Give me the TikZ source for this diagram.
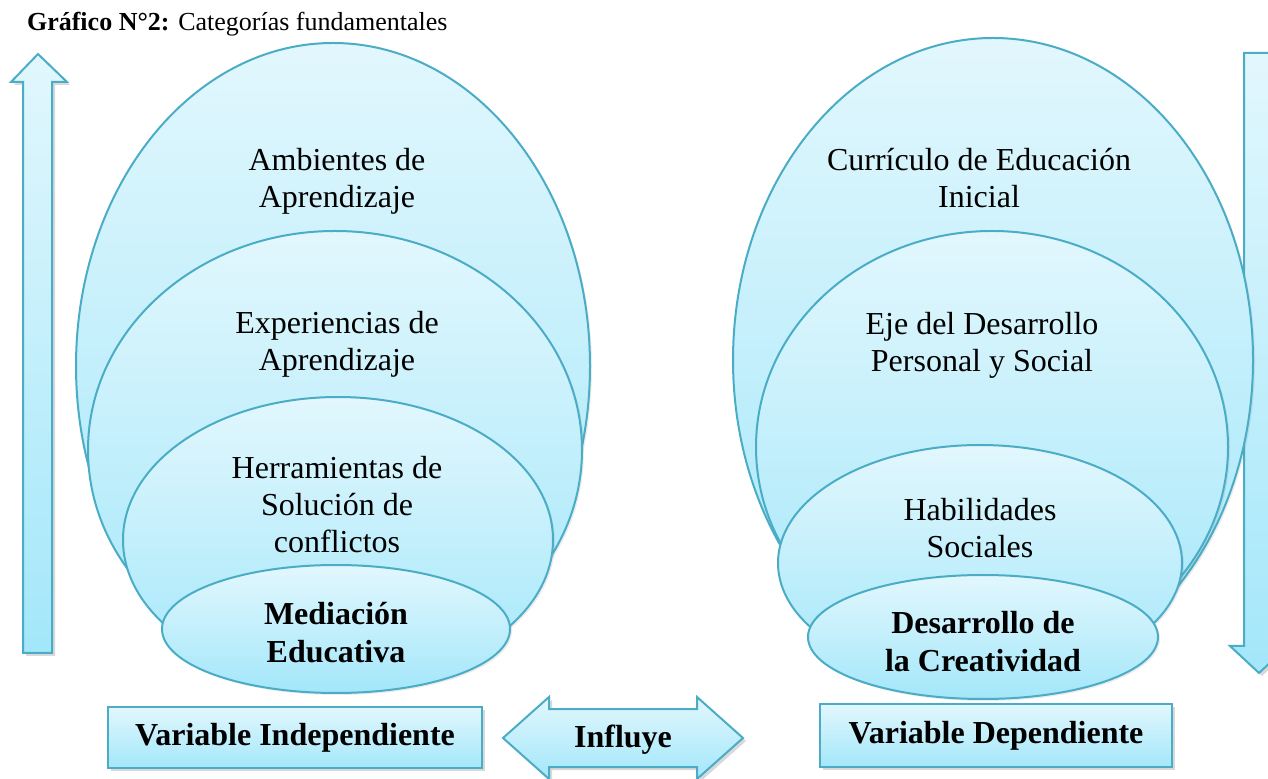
\documentclass[tikz,border=0pt]{standalone}
\usepackage{fontspec}
\setmainfont{Liberation Serif}
\usetikzlibrary{shapes.geometric,shadows}

\definecolor{aqualine}{HTML}{4BACC6}
\definecolor{aqualight}{HTML}{E2F7FD}
\definecolor{aquadark}{HTML}{A3E7FA}

\begin{document}
\begin{tikzpicture}[x=0.5pt,y=-0.5pt,
    capa/.style={ellipse, draw=aqualine, line width=1pt, top color=aqualight, bottom color=aquadark,
      inner sep=0pt, outer sep=0pt, drop shadow={opacity=0.15, shadow xshift=1pt, shadow yshift=-1pt}},
    caja/.style={rectangle, draw=aqualine, line width=1pt, top color=aqualight, bottom color=aquadark,
      inner sep=0pt, outer sep=0pt, font=\bfseries\fontsize{16}{19}\selectfont,
      drop shadow={opacity=0.3, shadow xshift=1.5pt, shadow yshift=-1.5pt}},
    flecha/.style={draw=aqualine, line width=1pt, top color=aqualight, bottom color=aquadark,
      drop shadow={opacity=0.3, shadow xshift=1.5pt, shadow yshift=-1.5pt}},
    rotulo/.style={align=center, font=\fontsize{16}{18.5}\selectfont},
    rotulob/.style={align=center, font=\bfseries\fontsize{16}{19}\selectfont}]
  \useasboundingbox (0,0) rectangle (1268,779);
  \clip (0,0) rectangle (1268,779);

  \node[anchor=base west, font=\fontsize{13}{15}\selectfont] (titulo) at (20,31) {\textbf{Gráfico N°2:} Categorías fundamentales};

  \draw[flecha] (38,54) -- (67,82) -- (52,82) -- (52,653) -- (23,653) -- (23,82) -- (11,82) -- cycle;
  \draw[flecha] (1244,53) -- (1274,53) -- (1274,646) -- (1288,646) -- (1259,673) -- (1230,646) -- (1244,646) -- cycle;

  \node[capa, minimum width=257pt, minimum height=323pt] (ambientes) at (333,366) {};
  \node[capa, minimum width=247pt, minimum height=219pt] (experiencias) at (335,450) {};
  \node[capa, minimum width=215pt, minimum height=143pt] (herramientas) at (338,540) {};
  \node[capa, minimum width=174pt, minimum height=64pt] (mediacion) at (336,629) {};

  \node[capa, minimum width=260pt, minimum height=322pt] (curriculo) at (993,360) {};
  \node[capa, minimum width=236pt, minimum height=216pt] (eje) at (992,447) {};
  \node[capa, minimum width=202pt, minimum height=118pt] (habilidades) at (980,563) {};
  \node[capa, minimum width=175pt, minimum height=62pt] (desarrollo) at (983,637) {};

  \node[rotulo] (ambT) at (337,181) {Ambientes de\\Aprendizaje};
  \node[rotulo] (expT) at (337,344) {Experiencias de\\Aprendizaje};
  \node[rotulo] (herT) at (337,505) {Herramientas de\\Solución de\\conflictos};
  \node[rotulob] (medT) at (336,633) {Mediación\\Educativa};

  \node[rotulo] (curT) at (979,178) {Currículo de Educación\\Inicial};
  \node[rotulo] (ejeT) at (982,345) {Eje del Desarrollo\\Personal y Social};
  \node[rotulo] (habT) at (980,528) {Habilidades\\Sociales};
  \node[rotulob] (desT) at (983,642) {Desarrollo de\\la Creatividad};

  \node[caja, minimum width=187pt, minimum height=30.5pt] (independiente) at (295,737.5) {Variable Independiente};
  \node[caja, minimum width=176pt, minimum height=31.5pt] (dependiente) at (996,735.5) {Variable Dependiente};

  \draw[flecha] (503,738) -- (549,697) -- (549,709) -- (697,709) -- (697,697) -- (743,738)
    -- (697,779) -- (697,767) -- (549,767) -- (549,779) -- cycle;
  \node[rotulob] (influye) at (623,740) {Influye};
\end{tikzpicture}
\end{document}
